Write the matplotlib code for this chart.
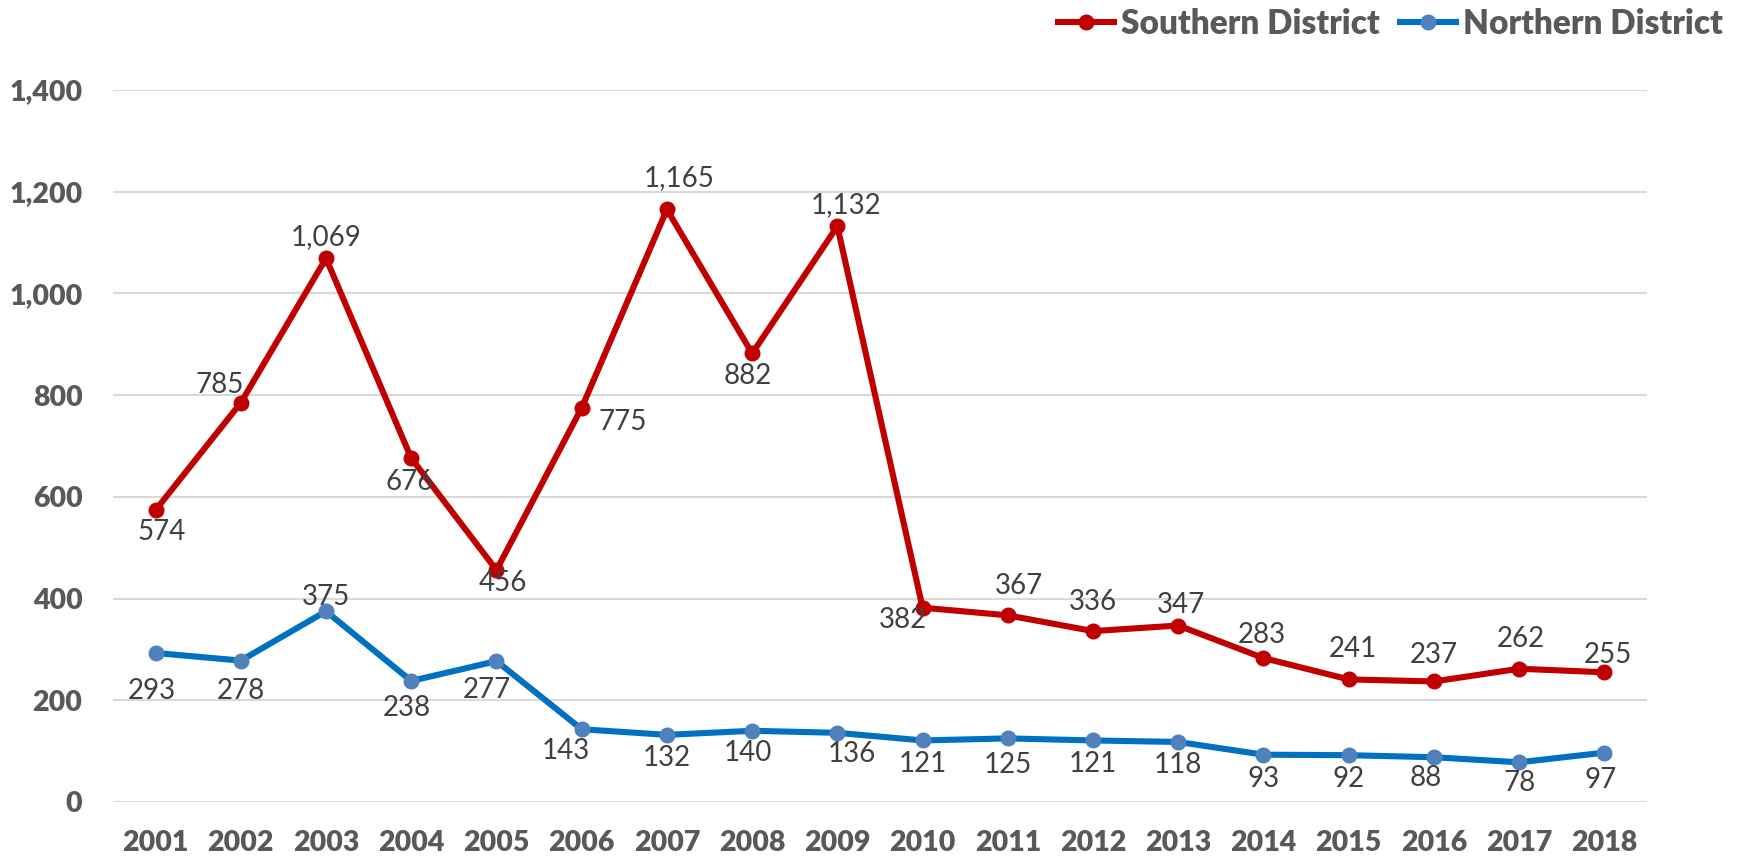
import numpy as np
import matplotlib.pyplot as plt

years = [str(y) for y in range(2001, 2019)]
southern = [574, 785, 1069, 676, 456, 775, 1165, 882, 1132,
            382, 367, 336, 347, 283, 241, 237, 262, 255]
northern = [293, 278, 375, 238, 277, 143, 132, 140, 136,
            121, 125, 121, 118, 93, 92, 88, 78, 97]

# label offsets in pixels (dx right, dy down)
south_off = [(6, 22), (-21, -18), (0, -21), (-2, 24), (6, 13), (41, 14),
             (12, -31), (-4, 23), (9, -21), (-20, 12), (11, -29), (0, -29),
             (3, -21), (-2, -23), (4, -30), (0, -26), (2, -30), (3, -17)]
north_off = [(-4, 38), (0, 30), (0, -14), (-4, 27), (-10, 29), (-16, 22),
             (0, 23), (-4, 22), (14, 21), (0, 24), (0, 27), (0, 24),
             (0, 23), (0, 24), (0, 24), (-8, 21), (0, 21), (-4, 27)]

plt.rcParams['font.family'] = ['Lato', 'DejaVu Sans']

red = '#C00000'
blue = '#0070C0'
blue_mk = '#4F81BD'
tick_col = '#595959'
lab_col = '#404040'

fig = plt.figure(figsize=(17.46, 8.57), dpi=100)
ax = fig.add_axes([0.0647, 0.0642, 0.8786, 0.8308])

x = np.arange(len(years))
ax.plot(x, southern, color=red, lw=4.4, marker='o', ms=10.5,
        mfc=red, mec=red, label='Southern District', zorder=3)
ax.plot(x, northern, color=blue, lw=4.4, marker='o', ms=10.5,
        mfc=blue_mk, mec=blue_mk, label='Northern District', zorder=3)

for xi, v, (dx, dy) in zip(x, southern, south_off):
    ax.annotate(f'{v:,}', (xi, v), xytext=(dx * 0.72, -dy * 0.72),
                textcoords='offset points', ha='center', va='center',
                fontsize=20, color=lab_col, zorder=4)
for xi, v, (dx, dy) in zip(x, northern, north_off):
    ax.annotate(f'{v:,}', (xi, v), xytext=(dx * 0.72, -dy * 0.72),
                textcoords='offset points', ha='center', va='center',
                fontsize=20, color=lab_col, zorder=4)

ax.set_xlim(-0.5, len(years) - 0.5)
ax.set_ylim(0, 1400)
ax.set_yticks(range(0, 1401, 200))
ax.set_yticklabels([f'{t:,}' for t in range(0, 1401, 200)])
ax.set_xticks(x)
ax.set_xticklabels(years)
ax.tick_params(length=0, labelsize=20.5, labelcolor=tick_col)
ax.tick_params(axis='y', pad=22)
ax.tick_params(axis='x', pad=20)
for lab in ax.get_xticklabels() + ax.get_yticklabels():
    lab.set_fontweight('heavy')
for s in ax.spines.values():
    s.set_visible(False)
ax.grid(axis='y', color='#D9D9D9', lw=1.5)
ax.set_axisbelow(True)

leg = fig.legend(loc='center right', bbox_to_anchor=(1.004, 0.972), ncol=2,
                 frameon=False, handlelength=1.7, handletextpad=0.2,
                 columnspacing=0.6, prop={'size': 24, 'weight': 'heavy'})
for t in leg.get_texts():
    t.set_color(tick_col)

fig.savefig('out.png', dpi=100)
